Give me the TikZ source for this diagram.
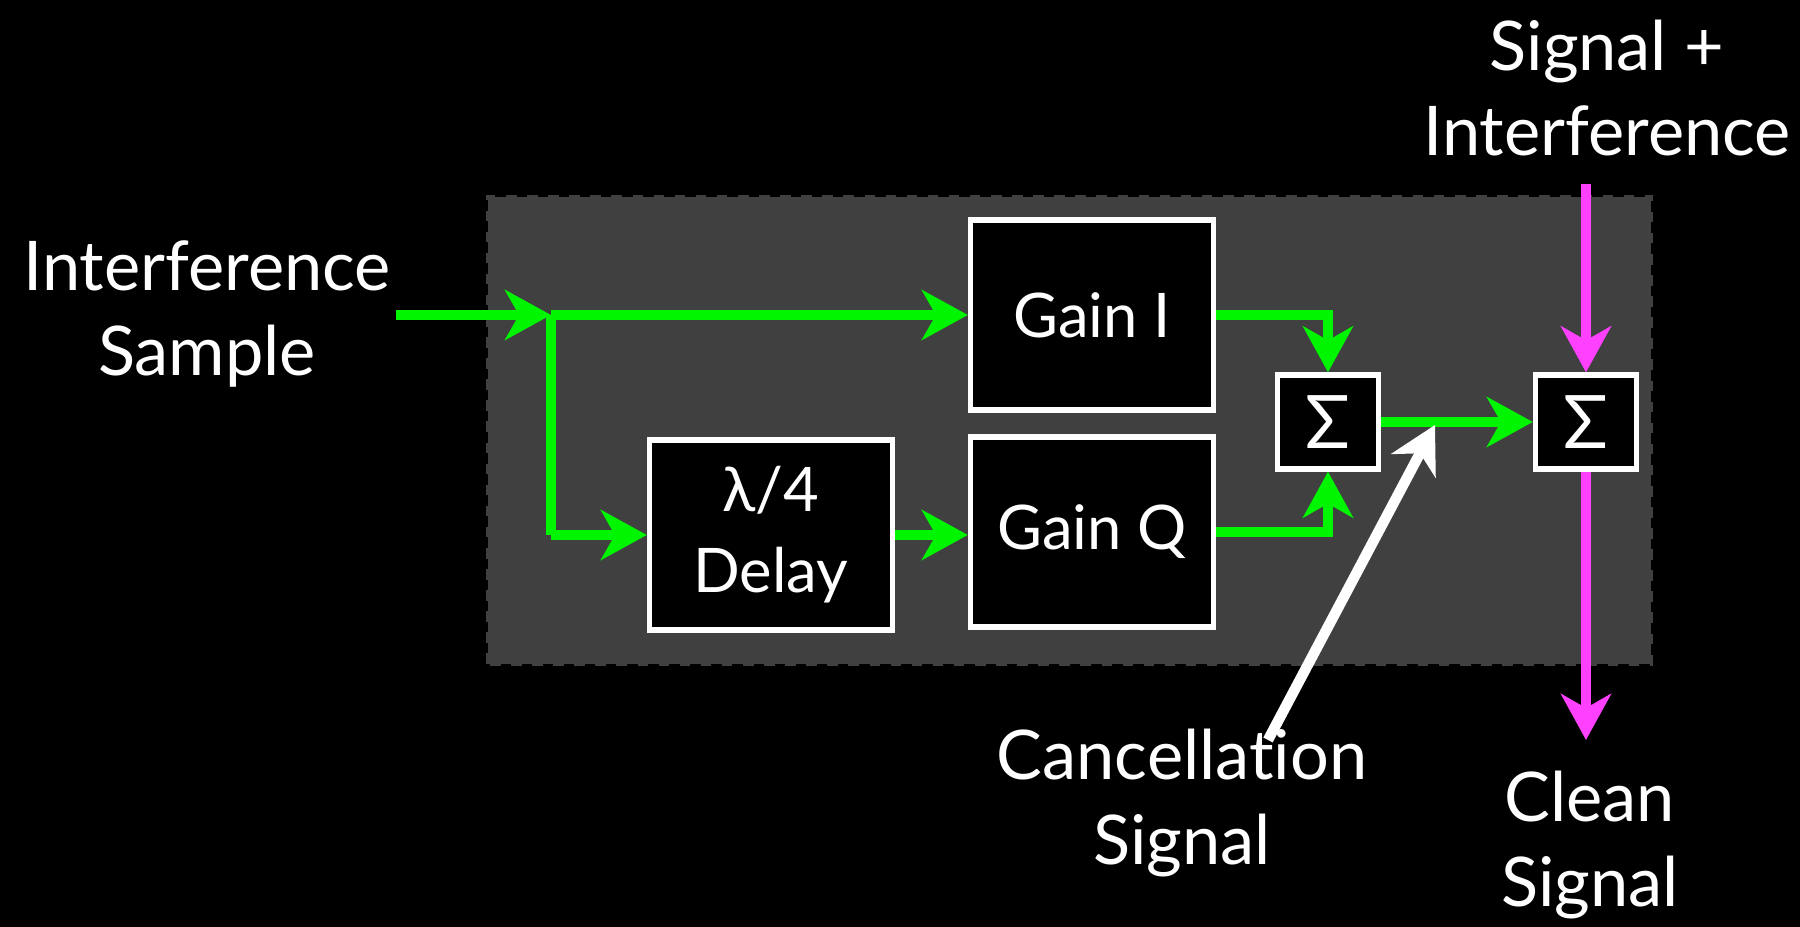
\documentclass[tikz,border=0pt]{standalone}
\usepackage{fontspec}
\setmainfont{Lato}[Ligatures=NoCommon]
\usetikzlibrary{arrows.meta}
\definecolor{sigGreen}{RGB}{0,245,0}
\definecolor{sigPink}{RGB}{255,64,255}
\definecolor{panelGray}{RGB}{64,64,64}
\tikzset{
  blockbox/.style={draw=white,line width=1.5pt,fill=black,text=white,
    minimum width=2.43cm,minimum height=1.9cm,inner sep=0pt,
    font=\fontsize{17.5}{23}\selectfont,align=center},
  sumbox/.style={draw=white,line width=1.5pt,fill=black,text=white,
    minimum width=1.01cm,minimum height=0.94cm,inner sep=0pt,
    font=\fontsize{21}{22}\selectfont},
  label/.style={text=white,align=center,font=\fontsize{19.5}{24}\selectfont},
  greenline/.style={sigGreen,line width=3pt,->},
  pinkline/.style={sigPink,line width=3pt,->},
}
\begin{document}
\begin{tikzpicture}[>={Stealth[length=4.6mm,width=5mm,inset=1.4mm]}]
% background and panel
\fill[black] (0,0) rectangle (18,9.27);
\useasboundingbox (0,0) rectangle (18,9.27);
\draw[panelGray,fill=panelGray,dashed,line width=1.2pt] (4.88,2.63) rectangle (16.51,7.30);
% blocks
\node[blockbox] (gainI) at (10.92,6.12) {Gain I};
\node[blockbox] (gainQ) at (10.92,3.95) {Gain Q};
\node[blockbox] (delay) at (7.71,3.92) {λ/4\\Delay};
\node[sumbox] (sumA) at (13.28,5.05) {Σ};
\node[sumbox] (sumB) at (15.86,5.05) {Σ};
% labels
\node[label] (inlabel) at (2.07,6.13) {Interference\\Sample};
\node[label] (toplabel) at (16.07,8.39) {Signal +\\Interference};
\node[label] (canclabel) at (11.82,1.24) {Cancellation\\Signal};
\node[label] (outlabel) at (15.90,0.82) {Clean\\Signal};
% helper points
\coordinate (inStart) at (3.96,6.12);
\coordinate (split) at (5.51,6.12);
\coordinate (pinkTop) at (15.86,7.43);
\coordinate (pinkEnd) at (15.86,1.87);
\coordinate (cancStart) at (12.68,1.87);
\coordinate (cancTip) at (14.35,5.02);
% interference sample in
\draw[greenline] (inStart)--(split);
\draw[greenline,-] (split)--(split|-delay);
\draw[greenline] (split)--(gainI.west);
\draw[greenline] (split|-delay)--(delay.west);
\draw[greenline] (delay.east)--(gainQ.west|-delay.east);
% to first sum
\draw[greenline] (gainI.east)-|(sumA.north);
\draw[greenline] (gainQ.east)-|(sumA.south);
\draw[greenline] (sumA.east)--(sumB.west);
% signal path
\draw[pinkline] (pinkTop)--(sumB.north);
\draw[pinkline] (sumB.south)--(pinkEnd);
% cancellation signal pointer
\draw[white,line width=3pt,->] (cancStart)--(cancTip);
\end{tikzpicture}
\end{document}
